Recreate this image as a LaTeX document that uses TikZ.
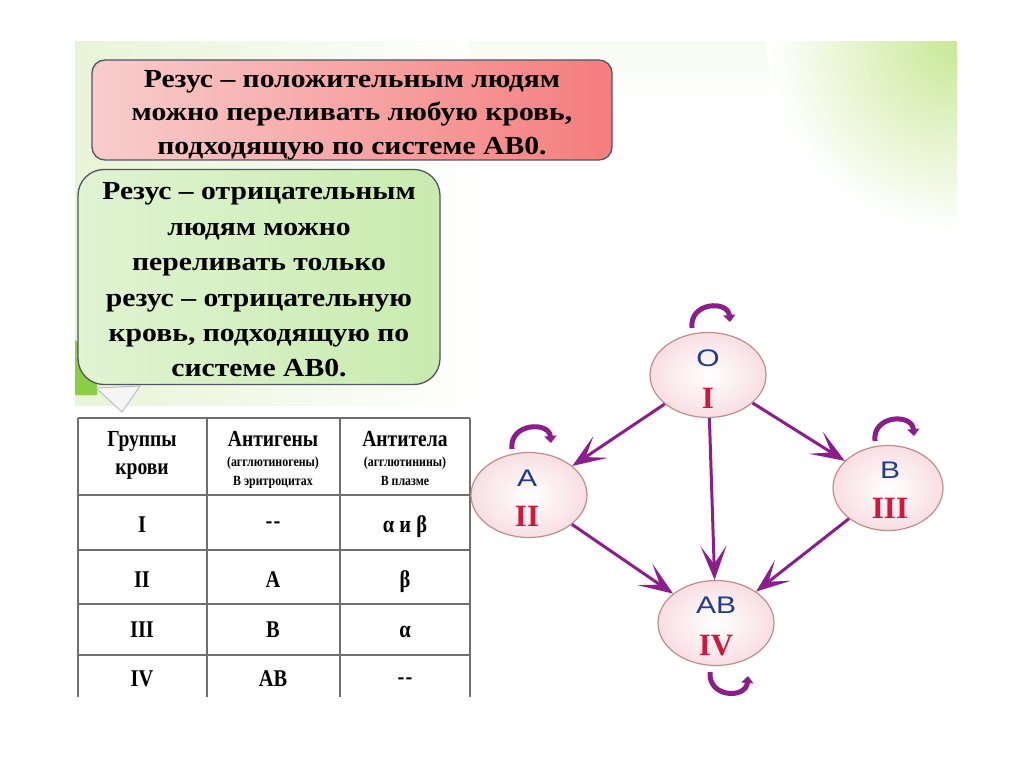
\documentclass[tikz,border=0pt]{standalone}
\usepackage{fontspec}
\setmainfont{Liberation Serif}
\newfontfamily\widef[FakeStretch=1.14]{Liberation Serif}
\newfontfamily\condf[FakeStretch=0.85]{Liberation Serif}
\newfontfamily\sansf[FakeStretch=1.25]{Liberation Sans}
\usetikzlibrary{arrows.meta,shapes.geometric,calc}
\definecolor{purp}{RGB}{140,30,140}
\definecolor{numred}{RGB}{215,20,60}
\definecolor{letblue}{RGB}{30,60,140}
\definecolor{pinkL}{RGB}{248,205,205}
\definecolor{pinkR}{RGB}{245,125,125}
\definecolor{greenL}{RGB}{225,243,210}
\definecolor{greenR}{RGB}{200,235,175}
\definecolor{boxline}{RGB}{80,85,100}
\definecolor{ellline}{RGB}{195,140,140}
\definecolor{ellfill}{RGB}{248,222,228}
\definecolor{tabline}{RGB}{110,110,110}
\definecolor{bgG}{RGB}{232,244,215}
\definecolor{bgG2}{RGB}{200,232,150}
\definecolor{leaf}{RGB}{140,205,70}
\tikzset{
  boxtext/.style={font=\widef\fontsize{26}{35.4}\selectfont\bfseries, align=center, text=black, inner sep=0pt},
  redtext/.style={boxtext, font=\widef\fontsize{26}{33.5}\selectfont\bfseries},
  redbox/.style={draw=boxline, line width=1.3pt, rounded corners=13pt,
     left color=pinkL, right color=pinkR, minimum width=520pt, minimum height=100pt, inner sep=0pt},
  greenbox/.style={draw=boxline, line width=1.3pt, rounded corners=26pt,
     left color=greenL, right color=greenR, minimum width=362pt, minimum height=215pt, inner sep=0pt},
  tabline/.style={draw=tabline, line width=1.4pt},
  headtxt/.style={font=\condf\fontsize{23}{26}\selectfont\bfseries, inner sep=0pt, anchor=base},
  smalltxt/.style={font=\condf\fontsize{14}{15}\selectfont\bfseries, inner sep=0pt, anchor=base},
  celltxt/.style={font=\condf\fontsize{24}{26}\selectfont\bfseries, inner sep=0pt, anchor=base},
  bnode/.style={ellipse, draw=ellline, line width=1.2pt, inner color=white, outer color=ellfill,
     minimum width=116pt, minimum height=85pt},
  lettxt/.style={font=\sansf\fontsize{24}{26}\selectfont, text=letblue, inner sep=0pt},
  numtxt/.style={font=\fontsize{31}{32}\selectfont\bfseries, text=numred, inner sep=0pt},
  flow/.style={draw=purp, line width=3pt, -{Stealth[length=34pt,width=26pt,inset=18pt]}},
  selfloop/.style={draw=purp, line width=5pt, -{Triangle[length=7pt,width=12pt]}},
}
\begin{document}
\begin{tikzpicture}[x=1pt,y=-1pt]
\useasboundingbox (0,0) rectangle (1024,767);
\fill[white] (0,0) rectangle (1024,767);
% slide background
\shade[left color=bgG, right color=white] (75,42) rectangle (480,405);
\shade[top color=bgG!40, bottom color=white] (470,42) rectangle (800,100);
\begin{scope}
  \clip (740,42) rectangle (957,300);
  \shade[inner color=bgG2, outer color=white] (957,42) circle (190);
\end{scope}
\fill[leaf] (75,340) .. controls (92,352) and (98,372) .. (97,395) -- (75,395) -- cycle;
% bubble tail
\filldraw[fill=gray!8, draw=gray!50, line width=1pt] (96,388) -- (122,412) -- (140,386) -- cycle;
% boxes
\node[redbox] (pos) at (352,110) {};
\node[redtext] (posT) at (352,115) {Резус – положительным людям\\можно переливать любую кровь,\\подходящую по системе АВ0.};
\node[greenbox] (neg) at (259,277) {};
\node[boxtext] (negT) at (259,280) {Резус – отрицательным\\людям можно\\переливать только\\резус – отрицательную\\кровь, подходящую по\\системе АВ0.};
% table
\fill[white] (78,418) rectangle (470,697);
\foreach \x in {78,207,340,470} \draw[tabline] (\x,418) -- (\x,697);
\foreach \y in {418,495,550,604,655} \draw[tabline] (78,\y) -- (470,\y);
\node[headtxt] (h1a) at (142,446) {Группы};
\node[headtxt] (h1b) at (142,474) {крови};
\node[headtxt] (h2a) at (273,446) {Антигены};
\node[smalltxt] (h2b) at (273,466) {(агглютиногены)};
\node[smalltxt] (h2c) at (273,485) {В эритроцитах};
\node[headtxt] (h3a) at (405,446) {Антитела};
\node[smalltxt] (h3b) at (405,466) {(агглютинины)};
\node[smalltxt] (h3c) at (405,485) {В плазме};
\node[celltxt] (r1a) at (142,532) {I};
\node[celltxt] (r1b) at (273,528) {-\kern1pt-};
\node[celltxt] (r1c) at (405,532) {α и β};
\node[celltxt] (r2a) at (142,587) {II};
\node[celltxt] (r2b) at (273,587) {A};
\node[celltxt] (r2c) at (405,587) {β};
\node[celltxt] (r3a) at (142,637) {III};
\node[celltxt] (r3b) at (273,637) {B};
\node[celltxt] (r3c) at (405,637) {α};
\node[celltxt] (r4a) at (142,686) {IV};
\node[celltxt] (r4b) at (273,686) {AB};
\node[celltxt] (r4c) at (405,684) {-\kern1pt-};
% diagram
\node[bnode] (o) at (708,375) {};
\node[bnode] (a) at (529,495) {};
\node[bnode, minimum width=110pt] (b) at (888,488) {};
\node[bnode] (ab) at (716,623) {};
\node[lettxt] (oL) at (708,358) {O};
\node[numtxt] (oN) at (708,398) {I};
\node[lettxt] (aL) at (527,478) {A};
\node[numtxt] (aN) at (527,516) {II};
\node[lettxt] (bL) at (890,470) {B};
\node[numtxt] (bN) at (890,508) {III};
\node[lettxt] (abL) at (716,605) {AB};
\node[numtxt] (abN) at (716,646) {IV};
\draw[flow] (o) -- (a);
\draw[flow] (o) -- (b);
\draw[flow] (o) -- (ab);
\draw[flow] (a) -- (ab);
\draw[flow] (b) -- (ab);
% self loops
\coordinate (o1) at (692,328); \coordinate (o2) at (730,322);
\draw[selfloop] (o1) .. controls (689,302) and (728,300) .. (o2);
\coordinate (a1) at (512,449); \coordinate (a2) at (551,443);
\draw[selfloop] (a1) .. controls (509,423) and (549,421) .. (a2);
\coordinate (b1) at (875,441); \coordinate (b2) at (914,436);
\draw[selfloop] (b1) .. controls (872,415) and (912,413) .. (b2);
\coordinate (c1) at (710,672); \coordinate (c2) at (748,676);
\draw[selfloop] (c1) .. controls (708,698) and (746,699) .. (c2);
\end{tikzpicture}
\end{document}
